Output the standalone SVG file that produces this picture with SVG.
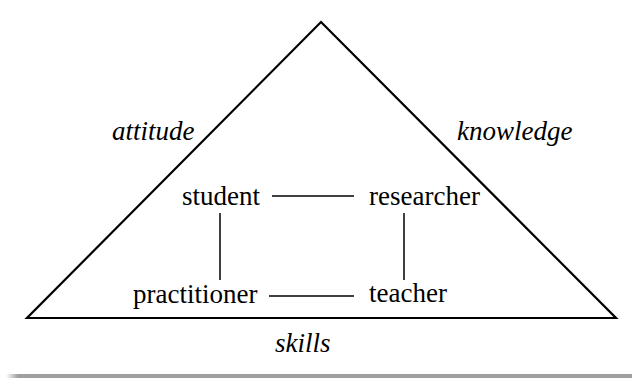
<svg xmlns="http://www.w3.org/2000/svg" width="632" height="378" viewBox="0 0 632 378">
<style>
.t{font-family:'Liberation Serif','DejaVu Serif',serif;font-size:27px;fill:#000}
.i{font-style:italic}
.ln{stroke:#000;stroke-width:1.5;fill:none}
</style>
<defs>
<linearGradient id="bar" gradientUnits="userSpaceOnUse" x1="6" y1="0" x2="18" y2="0">
<stop offset="0" stop-color="#a0a0a0" stop-opacity="0"/>
<stop offset="1" stop-color="#a0a0a0" stop-opacity="1"/>
</linearGradient>
</defs>
<rect width="632" height="378" fill="#fff"/>
<rect x="6" y="374" width="626" height="4" fill="url(#bar)"/>
<g id="triangle">
<polygon points="321,22 616,318 27,318" fill="none" stroke="#000" stroke-width="2.2" stroke-linejoin="miter"/>
</g>
<g id="connectors">
<line class="ln" x1="272" y1="196" x2="354" y2="196"/>
<line class="ln" x1="269" y1="296" x2="354" y2="296"/>
<line class="ln" x1="220" y1="213" x2="220" y2="280"/>
<line class="ln" x1="404" y1="213" x2="404" y2="280"/>
</g>
<g id="student"><text class="t" font-family="Liberation Serif" x="182" y="205">student</text></g>
<g id="researcher"><text class="t" font-family="Liberation Serif" x="369" y="205">researcher</text></g>
<g id="practitioner"><text class="t" font-family="Liberation Serif" x="133" y="303">practitioner</text></g>
<g id="teacher"><text class="t" font-family="Liberation Serif" x="369" y="302">teacher</text></g>
<g id="attitude"><text class="t i" font-family="Liberation Serif" x="112" y="140">attitude</text></g>
<g id="knowledge"><text class="t i" font-family="Liberation Serif" x="457" y="140">knowledge</text></g>
<g id="skills"><text class="t i" font-family="Liberation Serif" x="275" y="352">skills</text></g>
</svg>
